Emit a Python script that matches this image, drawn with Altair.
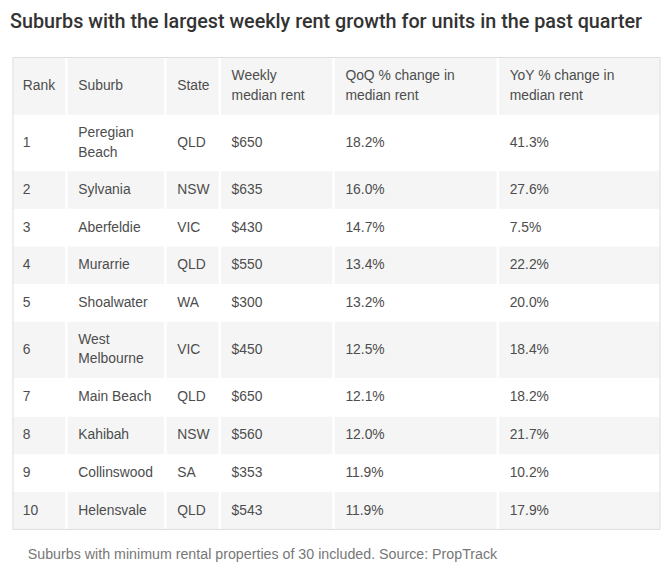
import altair as alt
import pandas as pd

# ---- data ----
headers = ["Rank", "Suburb", "State", "Weekly\nmedian rent", "QoQ % change in\nmedian rent", "YoY % change in\nmedian rent"]
ranks = ["1", "2", "3", "4", "5", "6", "7", "8", "9", "10"]
suburbs = ["Peregian\nBeach", "Sylvania", "Aberfeldie", "Murarrie", "Shoalwater", "West\nMelbourne",
           "Main Beach", "Kahibah", "Collinswood", "Helensvale"]
states = ["QLD", "NSW", "VIC", "QLD", "WA", "VIC", "QLD", "NSW", "SA", "QLD"]
rents = ["$650", "$635", "$430", "$550", "$300", "$450", "$650", "$560", "$353", "$543"]
qoq = ["18.2%", "16.0%", "14.7%", "13.4%", "13.2%", "12.5%", "12.1%", "12.0%", "11.9%", "11.9%"]
yoy = ["41.3%", "27.6%", "7.5%", "22.2%", "20.0%", "18.4%", "18.2%", "21.7%", "10.2%", "17.9%"]
title = "Suburbs with the largest weekly rent growth for units in the past quarter"
footnote = "Suburbs with minimum rental properties of 30 included. Source: PropTrack"

# ---- layout (table grid in pixel units) ----
col_edges = [13, 67, 167, 222, 337, 503, 667]
text_x = [23, 79, 179, 234, 349, 515]
row_edges = [55, 113, 170, 208, 246, 284, 322, 379, 418, 456, 494, 532]
LINE_H = 19.5
GAP = 1.2

columns = [ranks, suburbs, states, rents, qoq, yoy]
table_rows = [headers] + [[c[i] for c in columns] for i in range(len(ranks))]

cells = []
for r, row in enumerate(table_rows):
    for c, label in enumerate(row):
        n_lines = label.count("\n") + 1
        cells.append({
            "label": label,
            "x1": col_edges[c] + (0 if c == 0 else GAP),
            "x2": col_edges[c + 1] - (0 if c == len(row) - 1 else GAP),
            "y1": row_edges[r],
            "y2": row_edges[r + 1],
            "tx": text_x[c],
            "ty": (row_edges[r] + row_edges[r + 1]) / 2 - (n_lines - 1) * LINE_H / 2,
            "shaded": r % 2 == 0,
        })
df = pd.DataFrame(cells)
frame = pd.DataFrame([{"x1": col_edges[0], "x2": col_edges[-1], "y1": row_edges[0], "y2": row_edges[-1]}])
foot = pd.DataFrame([{"label": footnote, "tx": 28, "ty": 558}])
head = pd.DataFrame([{"label": title, "tx": 10, "ty": 25}])

W = col_edges[-1] - col_edges[0]
H = row_edges[-1] - row_edges[0]
xs = alt.Scale(domain=[col_edges[0], col_edges[-1]], nice=False, zero=False)
ys = alt.Scale(domain=[row_edges[0], row_edges[-1]], nice=False, zero=False, reverse=True)

bg = alt.Chart(df).transform_filter("datum.shaded").mark_rect(fill="#f5f5f5").encode(
    x=alt.X("x1:Q", scale=xs, axis=None), x2="x2:Q",
    y=alt.Y("y1:Q", scale=ys, axis=None), y2="y2:Q",
)
border = alt.Chart(frame).mark_rect(fill=None, stroke="#dedede", strokeWidth=1).encode(
    x=alt.X("x1:Q", scale=xs, axis=None), x2="x2:Q",
    y=alt.Y("y1:Q", scale=ys, axis=None), y2="y2:Q",
)
txt = alt.Chart(df).mark_text(
    align="left", baseline="middle", font="Liberation Sans", fontSize=14,
    color="#4d4d4d", lineBreak="\n", lineHeight=LINE_H,
).encode(
    x=alt.X("tx:Q", scale=xs, axis=None),
    y=alt.Y("ty:Q", scale=ys, axis=None),
    text="label:N",
)
ftxt = alt.Chart(foot).mark_text(
    align="left", baseline="middle", font="Liberation Sans", fontSize=14.4,
    color="#777777", clip=False,
).encode(
    x=alt.X("tx:Q", scale=xs, axis=None),
    y=alt.Y("ty:Q", scale=ys, axis=None),
    text="label:N",
)
ttxt = alt.Chart(head).mark_text(
    align="left", baseline="alphabetic", font="Roboto", fontSize=20, fontWeight=500,
    color="#333333", clip=False,
).encode(
    x=alt.X("tx:Q", scale=xs, axis=None),
    y=alt.Y("ty:Q", scale=ys, axis=None),
    text="label:N",
)

chart = alt.layer(bg, border, txt, ftxt, ttxt).properties(
    width=W, height=H,
    autosize=alt.AutoSizeParams(type="none"),
    padding={"left": 5, "top": 47, "right": 4, "bottom": 40},
).configure_view(stroke=None)

chart.save("out.html", embed_options={"renderer": "svg", "actions": False})
